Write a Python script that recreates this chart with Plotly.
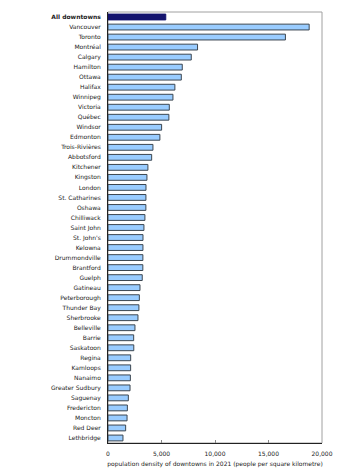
import plotly.graph_objects as go

categories = ["All downtowns", "Vancouver", "Toronto", "Montréal", "Calgary", "Hamilton", "Ottawa",
              "Halifax", "Winnipeg", "Victoria", "Québec", "Windsor", "Edmonton", "Trois-Rivières",
              "Abbotsford", "Kitchener", "Kingston", "London", "St. Catharines", "Oshawa", "Chilliwack",
              "Saint John", "St. John's", "Kelowna", "Drummondville", "Brantford", "Guelph", "Gatineau",
              "Peterborough", "Thunder Bay", "Sherbrooke", "Belleville", "Barrie", "Saskatoon", "Regina",
              "Kamloops", "Nanaimo", "Greater Sudbury", "Saguenay", "Fredericton", "Moncton", "Red Deer",
              "Lethbridge"]
values = [5400, 18800, 16580, 8370, 7780, 6940, 6850, 6250, 6070, 5730, 5690, 5010, 4850, 4200,
          4080, 3730, 3640, 3550, 3545, 3540, 3450, 3360, 3270, 3265, 3260, 3255, 3200, 2990,
          2930, 2890, 2800, 2520, 2400, 2410, 2120, 2115, 2090, 2060, 1900, 1810, 1780, 1650, 1400]
x_ticks = [0, 5000, 10000, 15000, 20000]
x_tick_labels = ["0", "5,000", "10,000", "15,000", "20,000"]
x_title = "population density of downtowns in 2021 (people per square kilometre)"

fills = ["#14146e" if c == "All downtowns" else "#99ccff" for c in categories]
outlines = ["#14146e" if c == "All downtowns" else "#3c4650" for c in categories]
tick_text = ["<b>All downtowns</b>" if c == "All downtowns" else c for c in categories]

fig = go.Figure(go.Bar(
    x=values, y=categories, orientation="h",
    marker=dict(color=fills, line=dict(color=outlines, width=1)),
    hoverinfo="x+y",
))

fig.update_layout(
    width=340, height=468,
    margin=dict(l=108, r=18, t=12, b=25, pad=0),
    paper_bgcolor="white", plot_bgcolor="white",
    font=dict(family="DejaVu Sans", size=6, color="#222222"),
    bargap=0.42,
    showlegend=False,
    shapes=[dict(type="rect", xref="paper", yref="paper", x0=0, x1=1, y0=0, y1=1,
                 line=dict(color="#a0a0a0", width=1), layer="below")],
    xaxis=dict(range=[0, 20000], tickvals=x_ticks, ticktext=x_tick_labels,
               showgrid=False, zeroline=False, showline=True, linecolor="#222222", linewidth=1,
               ticks="inside", ticklen=3, tickcolor="#888888", ticklabelstandoff=5,
               title=dict(text=x_title, font=dict(size=6, color="#222222"), standoff=5),
               tickfont=dict(size=6, color="#222222"), fixedrange=True, automargin=False),
    yaxis=dict(categoryorder="array", categoryarray=categories, autorange="reversed",
               tickvals=categories, ticktext=tick_text,
               showgrid=False, zeroline=False, showline=True, linecolor="#222222", linewidth=1,
               ticks="", ticklabelstandoff=5, tickfont=dict(size=6, color="#222222"),
               fixedrange=True, automargin=False),
)

fig.write_html("out.html")
